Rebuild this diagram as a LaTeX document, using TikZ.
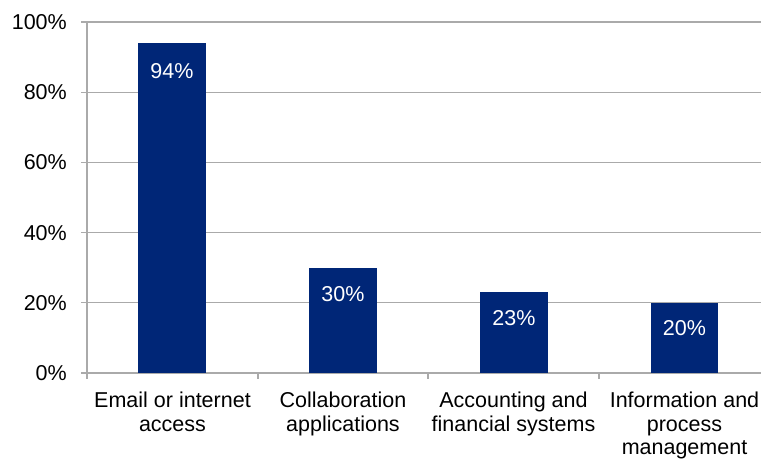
\documentclass[tikz,border=0pt]{standalone}
\usepackage{fontspec}
\setmainfont{Liberation Sans}
\usepackage{xcolor}
\usepackage{tikz}
\definecolor{barblue}{RGB}{0,38,119}
\definecolor{gridgray}{RGB}{170,170,170}

\begin{document}
\begin{tikzpicture}[x=1pt,y=1pt,
  every node/.style={inner sep=0pt,font=\fontsize{21.5}{23.5}\selectfont},
  axisline/.style={draw=gridgray,line width=1.1pt},
  ylab/.style={anchor=east},
  vlab/.style={text=white},
  catlab/.style={anchor=north,align=center}]
\useasboundingbox (0,0) rectangle (761,459);

%Grid
\draw[axisline] (81,86) -- (761,86);
\draw[axisline] (81,156.2) -- (761,156.2);
\draw[axisline] (81,226.4) -- (761,226.4);
\draw[axisline] (81,296.6) -- (761,296.6);
\draw[axisline] (81,366.8) -- (761,366.8);
\draw[axisline] (81,437) -- (761,437);
\draw[axisline] (87,86) -- (87,437);
\draw[axisline] (87,86) -- (87,80);
\draw[axisline] (258,86) -- (258,80);
\draw[axisline] (428,86) -- (428,80);
\draw[axisline] (599,86) -- (599,80);

%Bars
\fill[barblue] (138,86) rectangle (206,416);
\fill[barblue] (309,86) rectangle (377,191.3);
\fill[barblue] (480,86) rectangle (548,166.7);
\fill[barblue] (651,86) rectangle (718,156.2);

%Values
\node[vlab] (v1) at (172,388) {94\%};
\node[vlab] (v2) at (343,165) {30\%};
\node[vlab] (v3) at (514,140.5) {23\%};
\node[vlab] (v4) at (684.5,131) {20\%};

%Axis labels
\node[ylab] (y0) at (67,86) {0\%};
\node[ylab] (y20) at (67,156.2) {20\%};
\node[ylab] (y40) at (67,226.4) {40\%};
\node[ylab] (y60) at (67,296.6) {60\%};
\node[ylab] (y80) at (67,366.8) {80\%};
\node[ylab] (y100) at (67,437) {100\%};

%Categories
\node[catlab] (c1) at (172.5,67) {Email or internet\\access};
\node[catlab] (c2) at (343,67) {Collaboration\\applications};
\node[catlab] (c3) at (513.5,67) {Accounting and\\financial systems};
\node[catlab] (c4) at (684.5,67) {Information and\\process\\management};
\end{tikzpicture}
\end{document}
